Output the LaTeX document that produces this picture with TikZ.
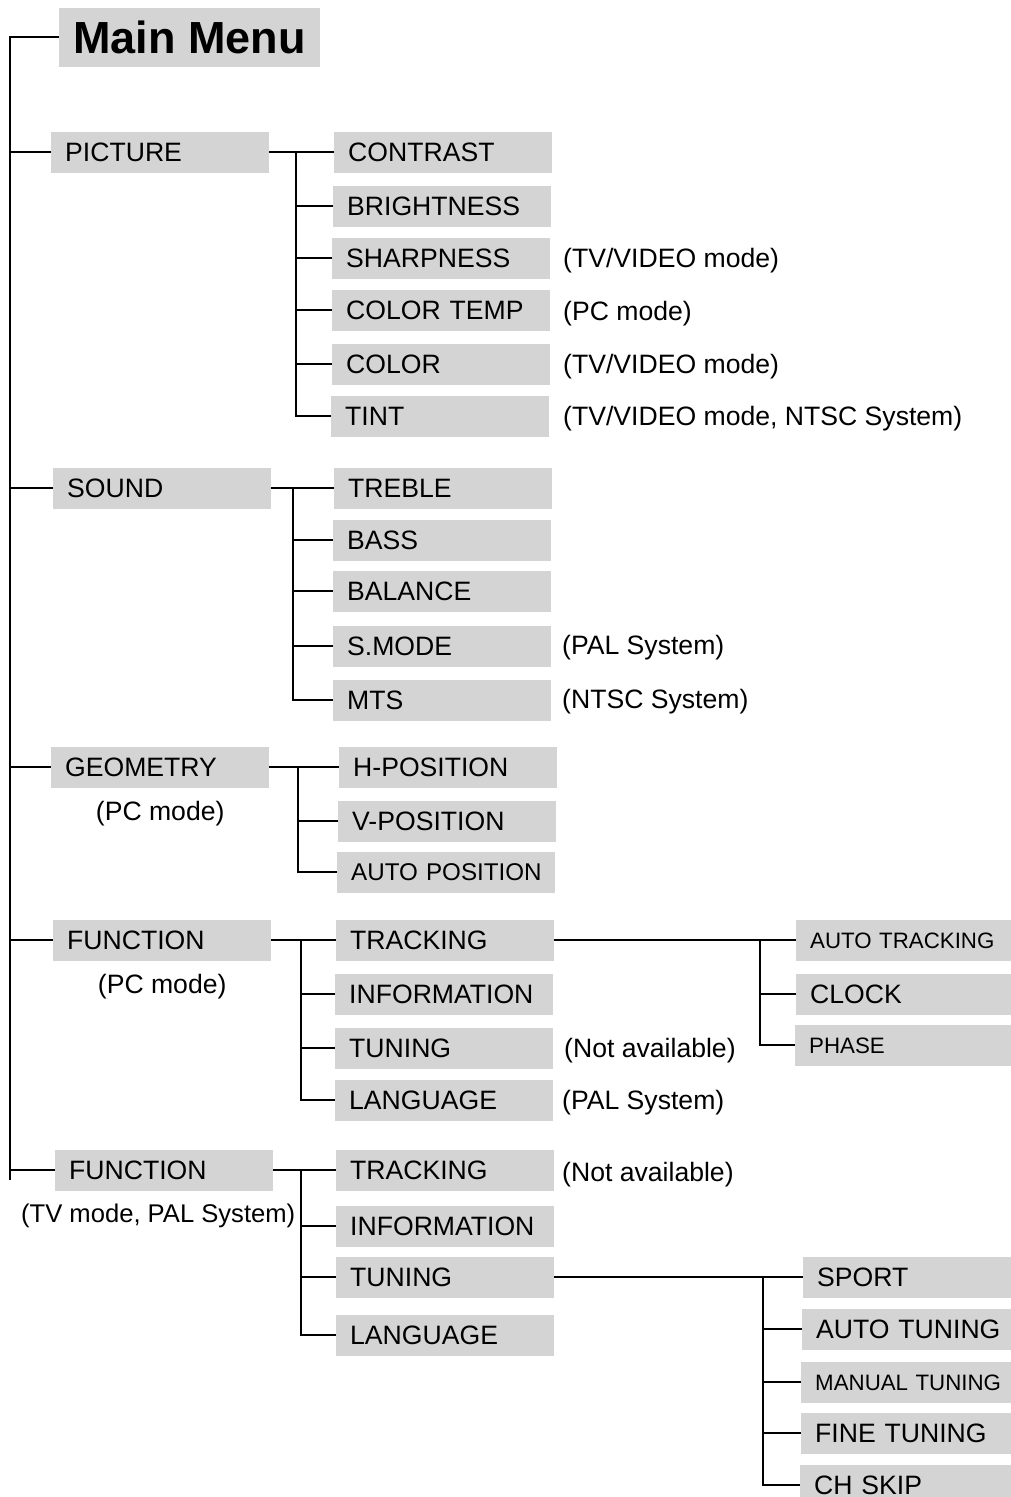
\documentclass[tikz,border=0pt]{standalone}
\usepackage{fontspec}
\setmainfont{Liberation Sans}
\usetikzlibrary{positioning}
\definecolor{boxgray}{RGB}{212,212,212}
\tikzset{
  item/.style={fill=boxgray, anchor=west, minimum height=41pt, text width=190pt,
    inner xsep=14pt, inner ysep=0pt, align=left, text height=19pt, text depth=0pt,
    font=\fontsize{26.6}{30}\selectfont},
  narrow item/.style={item, font=\fontsize{22.3}{26}\selectfont, text height=16pt},
  note/.style={anchor=west, inner sep=0pt, text height=19pt, text depth=0pt,
    font=\fontsize{26.6}{30}\selectfont},
  link/.style={line width=2.6pt}
}
\begin{document}
\begin{tikzpicture}[x=1pt,y=-1pt]
\useasboundingbox (0,0) rectangle (1011,1497);

\node [item, text width={}, align=center, minimum width=261pt, minimum height=59pt,
  text height=32pt, font=\bfseries\fontsize{45}{50}\selectfont] (main) at (59,37) {Main Menu};

\node [item] (pic) at (51,152) {PICTURE};
\node [item] (snd) at (53,488) {SOUND};
\node [item] (geo) at (51,767) {GEOMETRY};
\node [item] (fpc) at (53,940) {FUNCTION};
\node [item] (ftv) at (55,1170) {FUNCTION};
\node [note, below=14pt of geo] {(PC mode)};
\node [note, below=14pt of fpc] {(PC mode)};
\node [note, below=13pt of ftv, xshift=-6pt, font=\fontsize{25.6}{30}\selectfont] {(TV mode, PAL System)};

\node [item] (pic1) at (334,152) {CONTRAST};
\node [item] (pic2) at (333,206) {BRIGHTNESS};
\node [item] (pic3) at (332,258) {SHARPNESS};
\node [item] (pic4) at (332,310) {COLOR TEMP};
\node [item] (pic5) at (332,364) {COLOR};
\node [item] (pic6) at (331,416) {TINT};
\node [note] at (563,258) {(TV/VIDEO mode)};
\node [note] at (563,311) {(PC mode)};
\node [note] at (563,364) {(TV/VIDEO mode)};
\node [note] at (563,416) {(TV/VIDEO mode, NTSC System)};

\node [item] (snd1) at (334,488) {TREBLE};
\node [item] (snd2) at (333,540) {BASS};
\node [item] (snd3) at (333,591) {BALANCE};
\node [item] (snd4) at (333,646) {S.MODE};
\node [item] (snd5) at (333,700) {MTS};
\node [note] at (562,645) {(PAL System)};
\node [note] at (562,699) {(NTSC System)};

\node [item] (geo1) at (339,767) {H-POSITION};
\node [item] (geo2) at (338,821) {V-POSITION};
\node [item, font=\fontsize{24.2}{28}\selectfont, text height=17.5pt] (geo3) at (337,872) {\mbox{AUTO POSITION}};

\node [item] (fpc1) at (336,940) {TRACKING};
\node [item] (fpc2) at (335,994) {INFORMATION};
\node [item] (fpc3) at (335,1048) {TUNING};
\node [item] (fpc4) at (335,1100) {LANGUAGE};
\node [note] at (564,1048) {(Not available)};
\node [note] at (562,1100) {(PAL System)};

\node [narrow item] (trk1) at (796,940) {AUTO TRACKING};
\node [item] (trk2) at (796,994) {CLOCK};
\node [narrow item] (trk3) at (795,1045) {PHASE};

\node [item] (ftv1) at (336,1170) {TRACKING};
\node [item] (ftv2) at (336,1226) {INFORMATION};
\node [item] (ftv3) at (336,1277) {TUNING};
\node [item] (ftv4) at (336,1335) {LANGUAGE};
\node [note] at (562,1172) {(Not available)};

\node [item] (tun1) at (803,1277) {SPORT};
\node [item] (tun2) at (802,1329) {AUTO TUNING};
\node [narrow item] (tun3) at (801,1382) {MANUAL TUNING};
\node [item] (tun4) at (801,1433) {FINE TUNING};
\node [item] (tun5) at (800,1485) {CH SKIP};

\coordinate (spine) at (10,1180);
\coordinate (picb) at (296,152);
\coordinate (sndb) at (293,488);
\coordinate (geob) at (298,767);
\coordinate (fpcb) at (301,940);
\coordinate (trkb) at (760,940);
\coordinate (ftvb) at (301,1170);
\coordinate (tunb) at (763,1277);

\draw [link] (main) -| (spine);
\draw [link] (spine |- pic) -- (pic) (spine |- snd) -- (snd) (spine |- geo) -- (geo)
  (spine |- fpc) -- (fpc) (spine |- ftv) -- (ftv);

\draw [link] (pic) -- (pic1);
\draw [link] (picb) |- (pic6);
\draw [link] (picb |- pic2) -- (pic2) (picb |- pic3) -- (pic3) (picb |- pic4) -- (pic4)
  (picb |- pic5) -- (pic5);

\draw [link] (snd) -- (snd1);
\draw [link] (sndb) |- (snd5);
\draw [link] (sndb |- snd2) -- (snd2) (sndb |- snd3) -- (snd3) (sndb |- snd4) -- (snd4);

\draw [link] (geo) -- (geo1);
\draw [link] (geob) |- (geo3);
\draw [link] (geob |- geo2) -- (geo2);

\draw [link] (fpc) -- (fpc1);
\draw [link] (fpcb) |- (fpc4);
\draw [link] (fpcb |- fpc2) -- (fpc2) (fpcb |- fpc3) -- (fpc3);

\draw [link] (fpc1) -- (trk1);
\draw [link] (trkb) |- (trk3);
\draw [link] (trkb |- trk2) -- (trk2);

\draw [link] (ftv) -- (ftv1);
\draw [link] (ftvb) |- (ftv4);
\draw [link] (ftvb |- ftv2) -- (ftv2) (ftvb |- ftv3) -- (ftv3);

\draw [link] (ftv3) -- (tun1);
\draw [link] (tunb) |- (tun5);
\draw [link] (tunb |- tun2) -- (tun2) (tunb |- tun3) -- (tun3) (tunb |- tun4) -- (tun4);
\end{tikzpicture}
\end{document}
